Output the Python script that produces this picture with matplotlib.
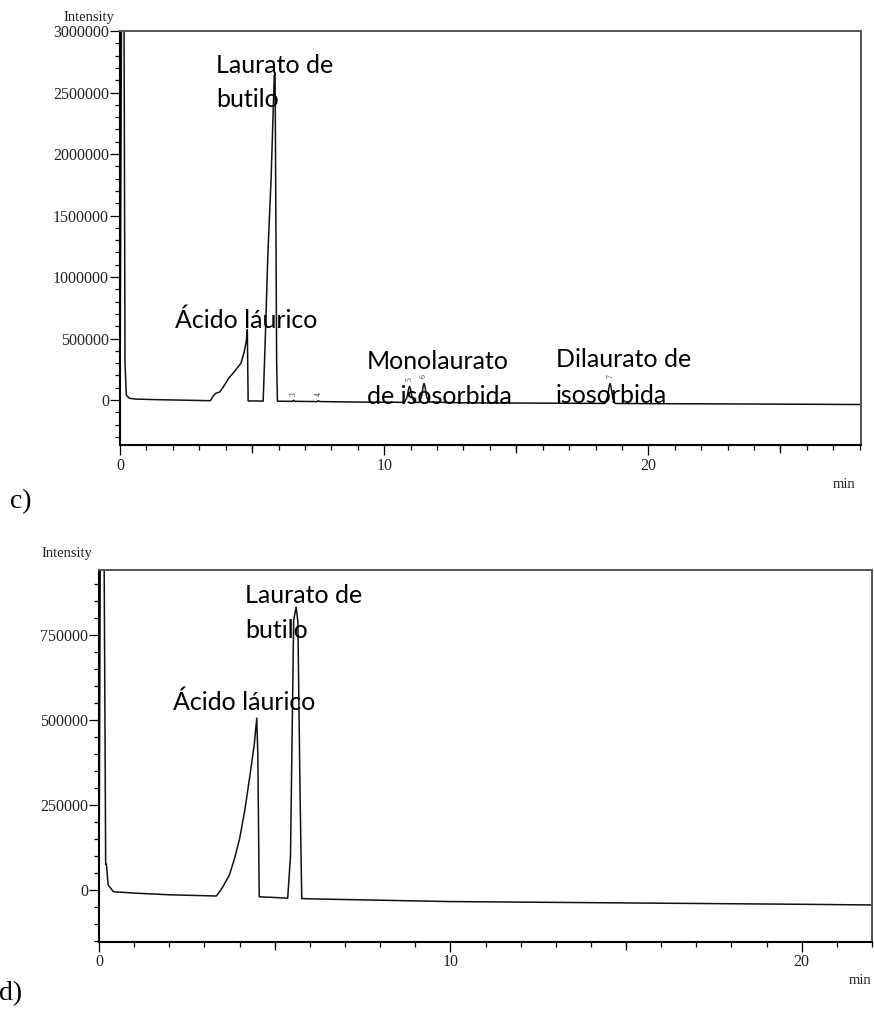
import matplotlib
matplotlib.use("Agg")
import matplotlib.pyplot as plt
from matplotlib.ticker import FixedLocator, FixedFormatter

# ---------------- data: chromatogram c) ----------------
time_c = [0.0, 0.06, 0.15, 0.19, 0.24, 0.35, 0.6, 1.5, 3.0, 3.42,
          3.52, 3.62, 3.78, 3.95, 4.12, 4.28, 4.45, 4.58, 4.70, 4.78, 4.82, 4.85,
          5.10, 5.42, 5.50, 5.60, 5.72, 5.84, 5.87, 5.90, 5.93, 5.96,
          6.40, 6.52, 6.57, 6.62, 7.40, 7.47, 7.51, 7.56, 9.0,
          10.77, 10.86, 10.93, 10.96, 10.99, 11.06, 11.15,
          11.32, 11.41, 11.48, 11.51, 11.54, 11.61, 11.70, 12.3,
          13.0, 15.0, 18.36, 18.45, 18.52, 18.55, 18.58, 18.65, 18.74,
          20.3, 24.0, 28.05]
int_c = [0, 3300000, 3300000, 300000, 40000, 15000, 8000, 3000, -3000, -5000,
         30000, 55000, 66000, 120000, 180000, 218000, 265000, 300000, 390000, 480000, 572000, -7000,
         -7000, -8000, 500000, 1200000, 1800000, 2640000, 2660000, 1500000, 300000, -9000,
         -10000, -10000, -2000, -10000, -12000, -12000, -5000, -12000, -16000,
         -18000, 20000, 95000, 113000, 95000, 20000, -18500,
         -19000, 25000, 115000, 135000, 115000, 25000, -15000, -19000,
         -22000, -24000, -27000, 25000, 115000, 135000, 115000, 25000, -27500,
         -29000, -32000, -36000]

# ---------------- data: chromatogram d) ----------------
time_d = [0.0, 0.04, 0.14, 0.19, 0.21, 0.26, 0.41, 1.0, 2.0, 3.34,
          3.50, 3.71, 3.85, 4.00, 4.15, 4.30, 4.42, 4.49, 4.52, 4.56,
          5.00, 5.37, 5.45, 5.54, 5.61, 5.66, 5.72, 5.77,
          6.0, 8.0, 10.0, 15.0, 20.0, 22.0]
int_d = [0, 1100000, 1100000, 76000, 76000, 15000, -5000, -9000, -14000, -17600,
         5000, 44000, 90000, 150000, 235000, 340000, 430000, 506000, 400000, -20000,
         -22000, -24000, 100000, 794000, 833000, 790000, 300000, -25000,
         -26000, -30000, -34000, -38000, -42000, -44000]

# ---------------- axis ticks ----------------
yticks_c = [0, 500000, 1000000, 1500000, 2000000, 2500000, 3000000]
yticks_d = [0, 250000, 500000, 750000]
xticks_c = [0, 10, 20]
xticks_d = [0, 10, 20]

labels_c = [("Laurato de", 216, 73), ("butilo", 216, 107),
            ("Ácido láurico", 175, 328),
            ("Monolaurato", 367, 369), ("de isosorbida", 367, 404),
            ("Dilaurato de", 556, 367), ("isosorbida", 556, 403)]
labels_d = [("Laurato de", 245, 603), ("butilo", 245, 638),
            ("Ácido láurico", 173, 710)]
peak_nums_c = [("3", 6.57, -10000), ("4", 7.51, -12000), ("5", 10.96, 113000),
               ("6", 11.51, 135000), ("7", 18.55, 135000)]

W, H = 874, 1011
fig = plt.figure(figsize=(W / 100, H / 100), dpi=100)


def fx(px):
    return px / W


def fy(py):
    return 1 - py / H


SERIF = "Liberation Serif"
ANN = "Lato"
TICKCOL = "#222222"


def style_axes(ax, xmax, ylo, yhi, yticks, yminor, xticks):
    ax.set_xlim(0, xmax)
    ax.set_ylim(ylo, yhi)
    for s in ("top", "right"):
        ax.spines[s].set_color("#555555")
        ax.spines[s].set_linewidth(1.4)
    for s in ("left", "bottom"):
        ax.spines[s].set_color("black")
        ax.spines[s].set_linewidth(1.5)
    ax.yaxis.set_major_locator(FixedLocator(yticks))
    ax.yaxis.set_major_formatter(FixedFormatter([str(v) for v in yticks]))
    ax.yaxis.set_minor_locator(FixedLocator(yminor))
    ax.xaxis.set_major_locator(FixedLocator(xticks))
    ax.xaxis.set_major_formatter(FixedFormatter([str(v) for v in xticks]))
    ax.xaxis.set_minor_locator(FixedLocator(list(range(0, int(xmax) + 1))))
    ax.tick_params(axis="both", which="major", direction="out", length=7.5,
                   width=0.9, color="black", labelcolor=TICKCOL, labelsize=11.5)
    ax.tick_params(axis="both", which="minor", direction="out", length=3.8,
                   width=0.9, color="black")
    ax.tick_params(axis="y", which="major", pad=0.5)
    ax.tick_params(axis="x", which="major", pad=1.5)
    for lab in ax.get_xticklabels() + ax.get_yticklabels():
        lab.set_fontfamily(SERIF)
    # medium ticks at 5, 15, 25
    sec = ax.secondary_xaxis("bottom")
    sec.spines["bottom"].set_visible(False)
    sec.set_xticks([v for v in (5, 15, 25) if v <= xmax])
    sec.tick_params(axis="x", direction="out", length=5.5, width=0.9,
                    labelbottom=False, color="black")


# ---------------- top chart c) ----------------
ax1 = fig.add_axes([fx(120), fy(445), fx(861) - fx(120), fy(31) - fy(445)])
ax1.plot(time_c, int_c, color="#111111", lw=1.1)
style_axes(ax1, 28.05, -365000, 3000000, yticks_c,
           [v * 100000 for v in range(-3, 30)], xticks_c)
for txt, t, v in peak_nums_c:
    ax1.annotate(txt, (t, v), xytext=(0, 4), textcoords="offset points",
                 rotation=90, fontsize=5.5, color="#333333", ha="center", va="bottom",
                 fontfamily=SERIF)

# ---------------- bottom chart d) ----------------
ax2 = fig.add_axes([fx(99), fy(942), fx(872) - fx(99), fy(570) - fy(942)])
ax2.plot(time_d, int_d, color="#111111", lw=1.1)
style_axes(ax2, 22.0, -153000, 942000, yticks_d,
           [v * 50000 for v in range(-3, 19)], xticks_d)

# ---------------- texts ----------------
for txt, px, py in labels_c + labels_d:
    fig.text(fx(px), fy(py), txt, fontfamily=ANN, fontsize=18, color="black",
             ha="left", va="baseline")

fig.text(fx(89), fy(17), "Intensity", fontfamily=SERIF, fontsize=10.5,
         color=TICKCOL, ha="center", va="center")
fig.text(fx(67), fy(553), "Intensity", fontfamily=SERIF, fontsize=10.5,
         color=TICKCOL, ha="center", va="center")
fig.text(fx(844), fy(484), "min", fontfamily=SERIF, fontsize=10.5,
         color=TICKCOL, ha="center", va="center")
fig.text(fx(860), fy(981), "min", fontfamily=SERIF, fontsize=10.5,
         color=TICKCOL, ha="center", va="center")
fig.text(fx(10), fy(508), "c)", fontfamily=SERIF, fontsize=20,
         color="black", ha="left", va="baseline")
fig.text(fx(-1), fy(1000), "d)", fontfamily=SERIF, fontsize=20,
         color="black", ha="left", va="baseline")

fig.savefig("out.png", dpi=100, facecolor="white")
